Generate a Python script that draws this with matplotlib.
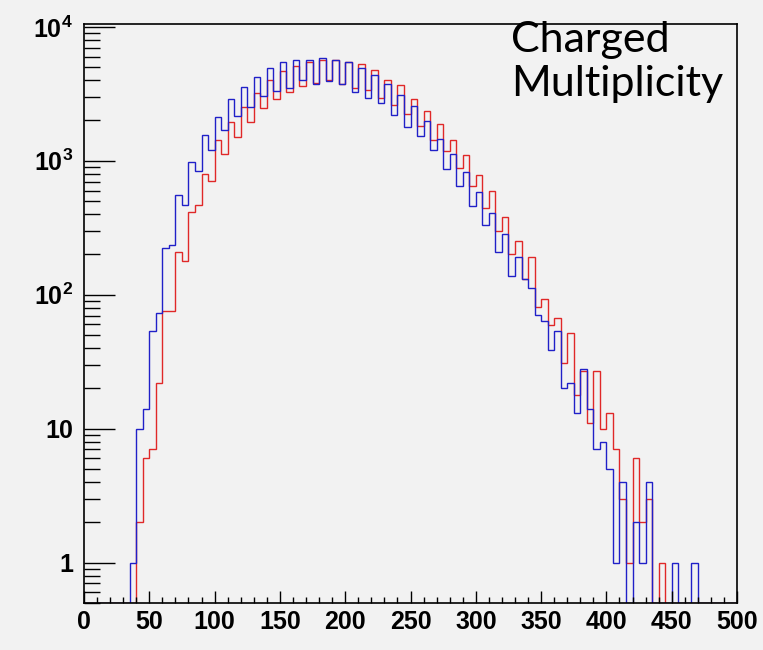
import numpy as np
import matplotlib
matplotlib.use("Agg")
import matplotlib.pyplot as plt
from matplotlib.ticker import FixedLocator, MultipleLocator

# bin edges: 100 bins of width 5 from 0 to 500
bin_lo = 0
bin_hi = 500
bin_width = 5

blue_counts = [
    0, 0, 0, 0, 0, 0, 0,
    1, 10, 14, 54, 73, 222, 236, 557, 467, 978,
    832, 1545, 1200, 2118, 1690, 2886, 2142, 3540, 2541, 4210,
    3020, 4920, 3310, 5450, 3524, 5610, 3980, 5670, 3756, 5840,
    3955, 5610, 3735, 5450, 3250, 4920, 2967, 4385, 2693, 3756,
    2190, 3090, 1803, 2555, 1528, 1997, 1195, 1452, 862, 1122,
    643, 818, 461, 580, 329, 407, 210, 285, 137, 193,
    132, 112, 71, 64, 39, 54, 20, 22, 13, 28,
    14, 7, 8, 5, 1, 4, 0, 2, 1, 4,
    0, 0, 0, 1, 0, 0, 1,
    0, 0, 0, 0, 0, 0,
]

red_counts = [
    0, 0, 0, 0, 0, 0, 0, 0,
    2, 6, 7, 22, 75, 75, 210, 179, 416, 467,
    798, 701, 1425, 1122, 1940, 1518, 2541, 1950, 3200, 2473,
    4000, 2886, 4670, 3290, 5120, 3630, 5450, 3800, 5610, 4020,
    5610, 3735, 5450, 3524, 5260, 3388, 4775, 2967, 4020, 2618,
    3650, 2230, 2886, 1814, 2335, 1420, 1880, 1180, 1425, 881,
    1100, 643, 777, 444, 590, 297, 380, 200, 253, 132,
    193, 81, 93, 59, 67, 31, 52, 18, 27, 11,
    27, 10, 13, 7, 3, 1, 6, 2, 3, 0,
    1,
    0, 0, 0, 0, 0, 0, 0, 0, 0, 0, 0,
]

ytick_values = [1, 10, 100, 1000, 10000]
ytick_labels = ["1", "10", r"$\mathbf{10^{2}}$", r"$\mathbf{10^{3}}$", r"$\mathbf{10^{4}}$"]
xtick_values = [0, 50, 100, 150, 200, 250, 300, 350, 400, 450, 500]

title_text = "Charged\nMultiplicity"

plt.rcParams["mathtext.fontset"] = "custom"
plt.rcParams["mathtext.bf"] = "Liberation Sans:bold"
plt.rcParams["mathtext.rm"] = "Liberation Sans:bold"

bg = "#f2f2f2"
ymin, ymax = 0.5, 1.05e4

edges = np.arange(bin_lo, bin_hi + bin_width, bin_width)
blue = np.clip(np.array(blue_counts, dtype=float), ymin, None)
red = np.clip(np.array(red_counts, dtype=float), ymin, None)

fig = plt.figure(figsize=(7.63, 6.5), dpi=100, facecolor=bg)
ax = fig.add_axes([84 / 763, 1 - 603 / 650, (737 - 84) / 763, (603 - 24) / 650])
ax.set_facecolor(bg)

ax.stairs(red, edges, baseline=None, color="#e02828", lw=1.0)
ax.stairs(blue, edges, baseline=None, color="#2020c8", lw=1.0)

ax.set_yscale("log")
ax.set_xlim(bin_lo, bin_hi)
ax.set_ylim(ymin, ymax)

ax.xaxis.set_major_locator(FixedLocator(xtick_values))
ax.xaxis.set_minor_locator(MultipleLocator(10))
ax.set_yticks(ytick_values)
ax.set_yticklabels(ytick_labels)
ax.yaxis.set_minor_locator(matplotlib.ticker.LogLocator(base=10, subs=np.arange(2, 10)))
ax.yaxis.set_minor_formatter(matplotlib.ticker.NullFormatter())

for lab in ax.get_xticklabels() + ax.get_yticklabels():
    lab.set_fontfamily("Liberation Sans")
    lab.set_fontweight("bold")
    lab.set_fontsize(18)

ax.tick_params(axis="x", which="major", direction="in", length=8.5, width=1, pad=5)
ax.tick_params(axis="x", which="minor", direction="in", length=4.3, width=1)
ax.tick_params(axis="y", which="major", direction="in", length=22, width=1, pad=8)
ax.tick_params(axis="y", which="minor", direction="in", length=11.5, width=1)

for sp in ax.spines.values():
    sp.set_linewidth(1.2)

fig.text(511 / 763, 1 - 21 / 650, title_text, ha="left", va="top",
         fontsize=31, family="Lato", linespacing=1.2)

fig.savefig("out.png", dpi=100, facecolor=bg)
